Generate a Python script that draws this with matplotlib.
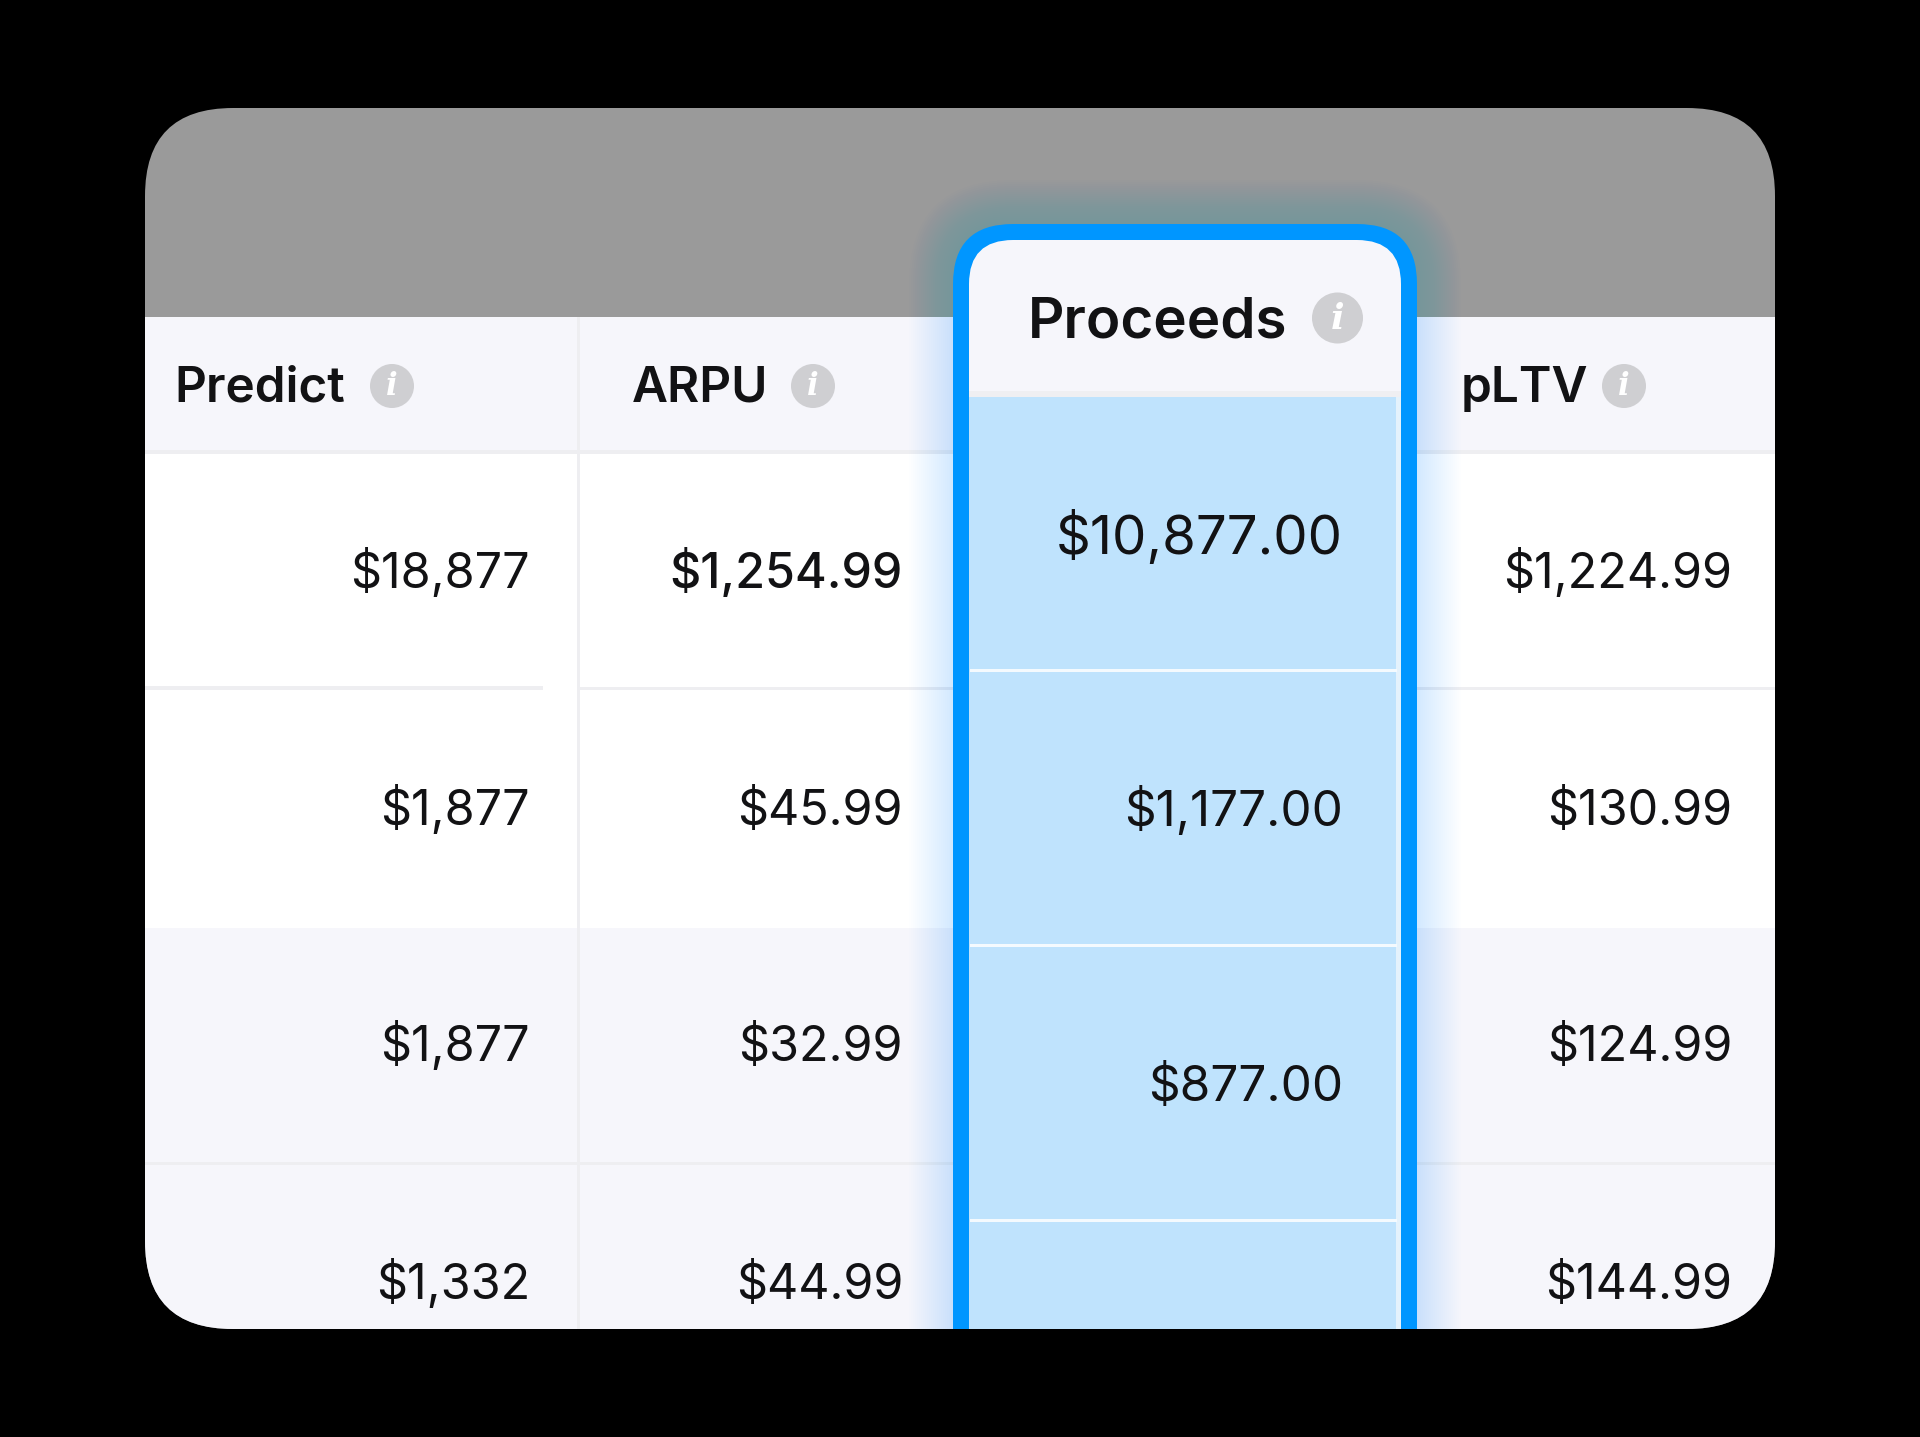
import matplotlib
matplotlib.use("Agg")
import matplotlib.pyplot as plt
from matplotlib.patches import FancyBboxPatch, Rectangle, Circle

# ---- content ----
columns = ["Predict", "ARPU", "Proceeds", "pLTV"]
predict = ["$18,877", "$1,877", "$1,877", "$1,332"]
arpu = ["$1,254.99", "$45.99", "$32.99", "$44.99"]
proceeds = ["$10,877.00", "$1,177.00", "$877.00"]
pltv = ["$1,224.99", "$130.99", "$124.99", "$144.99"]

W, H = 1920, 1437
PX = 0.72
FONT = "Inter"

fig = plt.figure(figsize=(W / 100, H / 100), dpi=100, facecolor="black")
ax = fig.add_axes([0, 0, 1, 1])
ax.set_xlim(0, W)
ax.set_ylim(H, 0)
ax.axis("off")

L, R, T, B = 145, 1775, 108, 1329
card = FancyBboxPatch((L, T), R - L, B - T, boxstyle="round,pad=0,rounding_size=88",
                      fc="#9a9a9a", ec="none", zorder=1)
ax.add_patch(card)


def clip(artist):
    artist.set_clip_path(card)
    return artist


def rect(x0, y0, x1, y1, color, z, alpha=None):
    return clip(ax.add_patch(Rectangle((x0, y0), x1 - x0, y1 - y0, fc=color, ec="none",
                                       zorder=z, alpha=alpha)))


PALE = "#f6f6fb"
LINE = "#eeeef1"
HEAD_T, HEAD_B, WHITE_B = 317, 452, 928
rect(L, HEAD_T, R, HEAD_B, PALE, 2)
rect(L, HEAD_B, R, WHITE_B, "white", 2)
rect(L, WHITE_B, R, B, PALE, 2)

# grid lines
rect(L, HEAD_B - 2, R, HEAD_B + 2, LINE, 3)
rect(L, 686, 543, 690, LINE, 3)
rect(580, 687, R, 690, LINE, 3)
rect(L, 1162, R, 1165, LINE, 3)
rect(577, HEAD_T, 580, B, LINE, 3)

# glow of the highlighted column
FX0, FX1, FY = 953, 1417, 224
FRAME_BOTTOM = 1700
for g in range(44, 0, -2):
    clip(ax.add_patch(FancyBboxPatch((FX0 - g, FY - g), FX1 - FX0 + 2 * g, FRAME_BOTTOM - FY,
                                     boxstyle=f"round,pad=0,rounding_size={60 + g}",
                                     fc="#0096ff", ec="none", alpha=0.0075, zorder=4)))

# highlighted frame
clip(ax.add_patch(FancyBboxPatch((FX0, FY), FX1 - FX0, FRAME_BOTTOM - FY,
                                 boxstyle="round,pad=0,rounding_size=60",
                                 fc="#0096ff", ec="none", zorder=5)))
clip(ax.add_patch(FancyBboxPatch((969, 240), 432, FRAME_BOTTOM - 240,
                                 boxstyle="round,pad=0,rounding_size=44",
                                 fc=PALE, ec="none", zorder=6)))
rect(969, 391, 1401, 397, "#efeff2", 6.5)
rect(969, 397, 1401, B, "#e4f2fc", 7)
rect(969, 397, 1396, B, "#bfe3fd", 7.5)
for y in (670, 945, 1220):
    rect(970, y - 1.5, 1397, y + 1.5, "#f4fafe", 8)


# text
def info(cx, cy, r):
    ax.add_patch(Circle((cx, cy), r, fc="#cfcfd2", ec="none", zorder=9))
    ax.text(cx, cy + r * 0.03, "i", family="DejaVu Serif", style="italic", weight="bold",
            fontsize=r * 1.4 * PX, color="white", ha="center", va="center", zorder=10)


INK = "#121214"
header_x = [174, 632, 1028, 1461]
header_base = [402, 402, 338, 402]
info_x = [392, 813, 1337.5, 1624]
info_y = [386, 386, 318, 386]
for i, name in enumerate(columns):
    big = name == "Proceeds"
    ax.text(header_x[i], header_base[i], name, family=FONT, weight=600, color=INK,
            fontsize=(56.5 if big else 49.5) * PX, ha="left", va="baseline", zorder=10)
    info(info_x[i], info_y[i], 25.5 if big else 22)

row_base = [588, 825, 1061, 1299]
for xr, col in ((530, predict), (903, arpu), (1732, pltv)):
    for j, s in enumerate(col):
        weight = 500 if s == "$1,254.99" else 400
        clip(ax.text(xr, row_base[j], s, family=FONT, weight=weight, color=INK,
                     fontsize=48.5 * PX, ha="right", va="baseline", zorder=10))

proc_base = [554, 826, 1101]
proc_px = [54.5, 49.5, 49.5]
for j, s in enumerate(proceeds):
    ax.text(1343, proc_base[j], s, family=FONT, weight=400, color=INK,
            fontsize=proc_px[j] * PX, ha="right", va="baseline", zorder=10)

fig.savefig("out.png", dpi=100, facecolor="black")
